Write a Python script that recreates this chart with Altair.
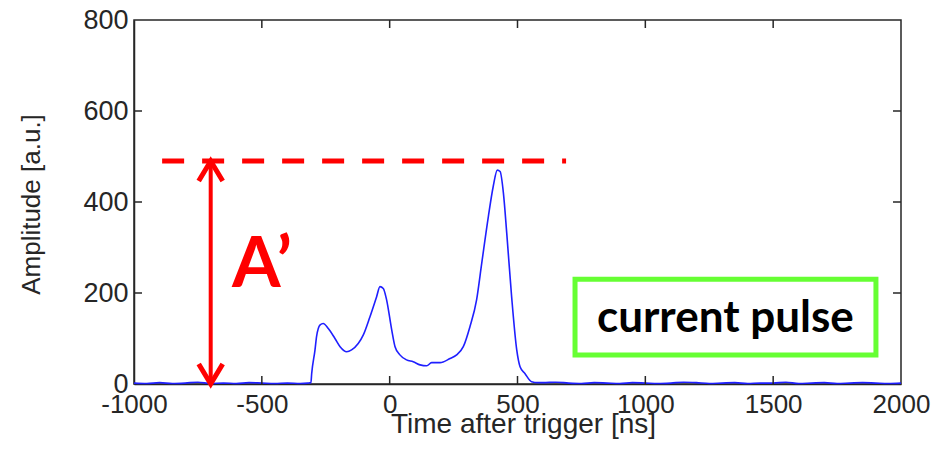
import altair as alt
import pandas as pd

# Sampled current-pulse trace: time after trigger (ns) and amplitude (a.u.)
time_ns = [
    -1000, -950, -900, -850, -800, -750, -700, -650, -600, -550, -500, -450, -400, -350, -320, -308,
    -305, -292, -286, -272, -260, -240, -214, -194, -168, -149, -123, -103, -77, -51, -38, -25, -12,
    8, 21, 40, 66, 92, 119, 145, 164, 197, 236, 262, 288, 314, 340, 360,
    386, 405, 421, 432, 445, 458, 477, 497, 510, 529, 555, 580,
    600, 650, 700, 750, 800, 850, 900, 950, 1000, 1050, 1100, 1150, 1200, 1250, 1300,
    1350, 1400, 1450, 1500, 1550, 1600, 1650, 1700, 1750, 1800, 1850, 1900, 1950, 2000,
]
amplitude = [
    2, 1, 3, 1, 2, 4, 1, 2, 1, 3, 2, 1, 2, 1, 2, 3,
    23, 75, 104, 130, 133, 122, 100, 82, 71, 75, 89, 108, 148, 192, 214, 210, 185,
    119, 82, 64, 53, 49, 42, 40, 47, 47, 56, 64, 82, 126, 185, 265,
    368, 434, 470, 467, 419, 331, 192, 75, 38, 23, 5, 3,
    3, 4, 2, 1, 3, 2, 1, 3, 2, 1, 2, 4, 3, 1, 2,
    3, 1, 2, 2, 4, 1, 2, 3, 1, 2, 3, 2, 1, 2,
]

x_ticks = [-1000, -500, 0, 500, 1000, 1500, 2000]
y_ticks = [0, 200, 400, 600, 800]
x_inner = [-500, 0, 500, 1000, 1500]
y_inner = [200, 400, 600]

# Annotation anchors (data units)
level_a = 490          # dashed reference level A'
level_x = [-890, 690]  # extent of the dashed level line
arrow_t = -700         # time position of the double arrow
label_pos = (-617, 213)
box_t = [725, 1902]
box_a = [64, 230]
box_label_pos = (1313, 114)

W, H = 767, 364
AXIS = "#262626"
FONT = "Liberation Sans"
RED = "#ff0000"

x_scale = alt.Scale(domain=[-1000, 2000], nice=False, zero=False)
y_scale = alt.Scale(domain=[0, 800], nice=False, zero=False)

x_axis = alt.Axis(
    values=x_ticks, labelExpr="datum.value + ''", ticks=False, grid=False,
    labelFont=FONT, labelFontSize=26, labelColor=AXIS, labelPadding=7,
    labelFlush=False, labelOverlap=False,
    domainColor=AXIS, domainWidth=1.5,
    title="Time after trigger [ns]", titleFont=FONT, titleFontSize=28,
    titleFontWeight="normal", titleColor=AXIS,
    titleX=389, titleY=48, titleAlign="center", titleBaseline="alphabetic",
)
y_axis = alt.Axis(
    values=y_ticks, labelExpr="datum.value + ''", ticks=False, grid=False,
    labelFont=FONT, labelFontSize=27, labelColor=AXIS, labelPadding=6,
    labelFlush=False, labelOverlap=False,
    domainColor=AXIS, domainWidth=1.5,
    title="Amplitude [a.u.]", titleFont=FONT, titleFontSize=26,
    titleFontWeight="normal", titleColor=AXIS,
    titleX=-103, titleY=184, titleAngle=-90, titleAlign="center", titleBaseline="middle",
)

trace = pd.DataFrame({"t": time_ns, "a": amplitude})

line = alt.Chart(trace).mark_line(color="#1f1fff", strokeWidth=1.6, interpolate="monotone").encode(
    x=alt.X("t:Q", scale=x_scale, axis=x_axis),
    y=alt.Y("a:Q", scale=y_scale, axis=y_axis),
)

# Inward-pointing frame ticks on all four sides
xt = pd.DataFrame({"t": x_inner})
yt = pd.DataFrame({"a": y_inner})
tick_style = dict(color=AXIS, strokeWidth=1.5)
bottom_ticks = alt.Chart(xt).mark_rule(**tick_style).encode(
    x=alt.X("t:Q", scale=x_scale), y=alt.value(H), y2=alt.value(H - 8))
top_ticks = alt.Chart(xt).mark_rule(**tick_style).encode(
    x=alt.X("t:Q", scale=x_scale), y=alt.value(0), y2=alt.value(8))
left_ticks = alt.Chart(yt).mark_rule(**tick_style).encode(
    y=alt.Y("a:Q", scale=y_scale), x=alt.value(0), x2=alt.value(8))
right_ticks = alt.Chart(yt).mark_rule(**tick_style).encode(
    y=alt.Y("a:Q", scale=y_scale), x=alt.value(W), x2=alt.value(W - 8))

# Dashed level line
level = alt.Chart(pd.DataFrame({"t": [level_x[0]], "t2": [level_x[1]], "a": [level_a]})).mark_rule(
    color=RED, strokeWidth=5, strokeDash=[22, 18]
).encode(x=alt.X("t:Q", scale=x_scale), x2="t2:Q", y=alt.Y("a:Q", scale=y_scale))

# Double-headed arrow
shaft = alt.Chart(pd.DataFrame({"t": [arrow_t], "a": [0], "a2": [level_a]})).mark_rule(
    color=RED, strokeWidth=4
).encode(x=alt.X("t:Q", scale=x_scale), y=alt.Y("a:Q", scale=y_scale), y2="a2:Q")

head_style = dict(filled=False, stroke=RED, strokeWidth=5, size=1600, opacity=1,
                  strokeJoin="miter", strokeCap="butt")
head_up = alt.Chart(pd.DataFrame({"t": [arrow_t], "a": [level_a]})).mark_point(
    shape="M-0.6,1L0,0L0.6,1", **head_style
).encode(x=alt.X("t:Q", scale=x_scale), y=alt.Y("a:Q", scale=y_scale))
head_down = alt.Chart(pd.DataFrame({"t": [arrow_t], "a": [0]})).mark_point(
    shape="M-0.6,-1L0,0L0.6,-1", **head_style
).encode(x=alt.X("t:Q", scale=x_scale), y=alt.Y("a:Q", scale=y_scale))

a_label = alt.Chart(pd.DataFrame({"t": [label_pos[0]], "a": [label_pos[1]], "s": ["A\u2019"]})).mark_text(
    font="Lato", fontWeight="bold", fontSize=70, color=RED, align="left", baseline="alphabetic"
).encode(x=alt.X("t:Q", scale=x_scale), y=alt.Y("a:Q", scale=y_scale), text="s:N")

box = alt.Chart(pd.DataFrame({"t": [box_t[0]], "t2": [box_t[1]], "a": [box_a[0]], "a2": [box_a[1]]})).mark_rect(
    fill="transparent", stroke="#66ff33", strokeWidth=5
).encode(x=alt.X("t:Q", scale=x_scale), x2="t2:Q", y=alt.Y("a:Q", scale=y_scale), y2="a2:Q")

box_label = alt.Chart(pd.DataFrame({"t": [box_label_pos[0]], "a": [box_label_pos[1]], "s": ["current pulse"]})).mark_text(
    font="Lato", fontWeight="bold", fontSize=44, color="#000000", align="center", baseline="alphabetic"
).encode(x=alt.X("t:Q", scale=x_scale), y=alt.Y("a:Q", scale=y_scale), text="s:N")

chart = alt.layer(
    line, bottom_ticks, top_ticks, left_ticks, right_ticks,
    level, shaft, head_up, head_down, a_label, box, box_label,
).properties(
    width=W, height=H,
    padding={"left": 134, "top": 20, "right": 34, "bottom": 70},
    autosize=alt.AutoSizeParams(type="none"),
    background="white",
).configure_view(stroke=AXIS, strokeWidth=1.5)

chart.save("out.html", embed_options={"renderer": "svg", "actions": False})
